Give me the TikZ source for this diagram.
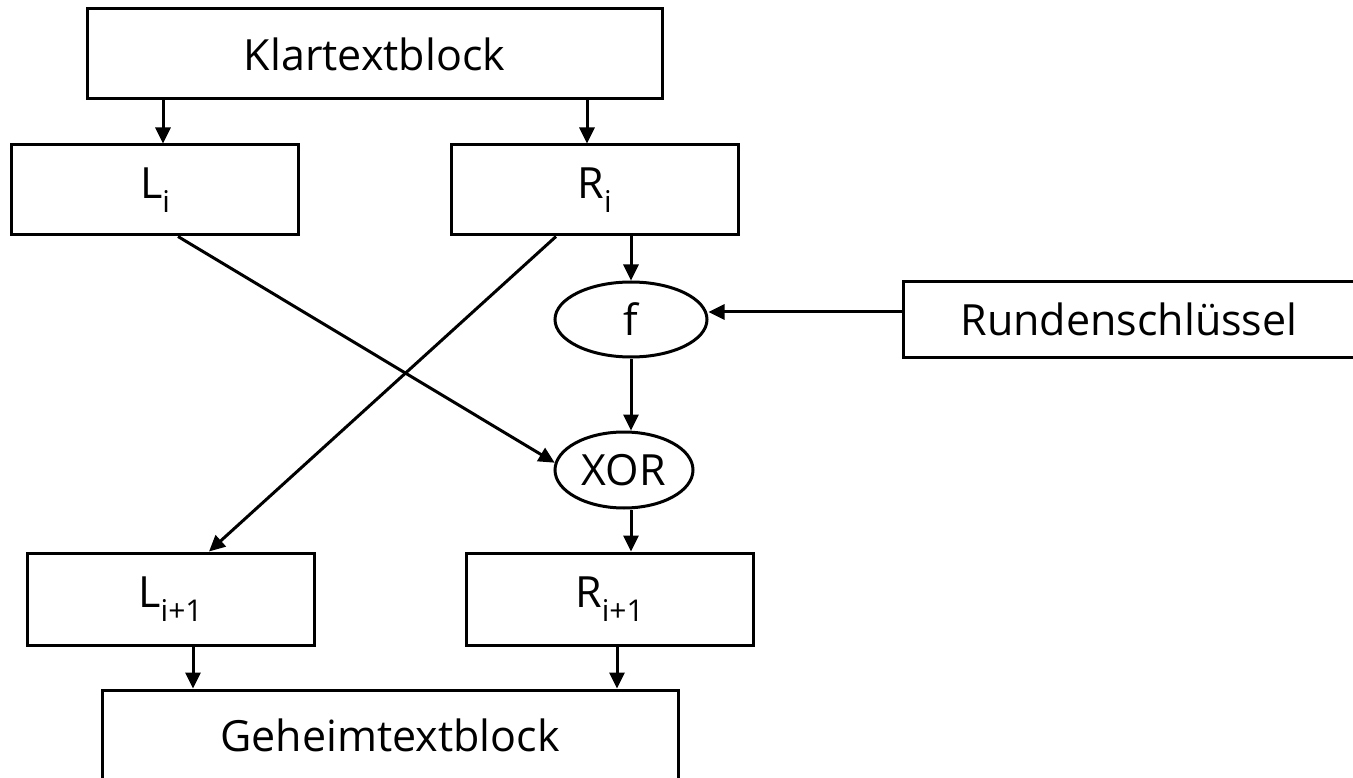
\documentclass[tikz,border=0pt]{standalone}
\usepackage{fontspec}
\setmainfont{Open Sans}
\usetikzlibrary{arrows.meta, positioning, shapes.geometric}

\newcommand{\idx}[1]{\raisebox{-14pt}{\fontsize{30}{30}\selectfont #1}}

\begin{document}
\begin{tikzpicture} [x = 1pt, y = -1pt, on grid, line width = 3pt,
        font = \fontsize{43}{48}\selectfont,
        block/.style = {draw, rectangle, inner sep = 0pt, minimum height = 90pt},
        half/.style = {block, minimum width = 287pt},
        round/.style = {draw, ellipse, inner sep = 0pt},
        arr/.style = {-{Triangle[length = 16pt, width = 15pt]}}]
        \useasboundingbox (0, 0) rectangle (1353, 778);

        \node (klar) [block, minimum width = 575pt] at (374.5, 54) {Klartextblock};
        \node (Li) [half, below left = 136pt and 219.5pt of klar] {L\idx{i}};
        \node (Ri) [half, right = 439.5pt of Li] {R\idx{i}};
        \node (f) [round, minimum width = 152pt, minimum height = 75pt, below right = 129.5pt and 36.5pt of Ri] {f};
        \node (rk) [block, minimum width = 452pt, minimum height = 75pt, right = 498pt of f] {Rundenschlüssel};
        \node (xor) [round, minimum width = 138pt, minimum height = 76pt, below left = 150.5pt and 7pt of f] {XOR};
        \node (Li1) [half, minimum height = 92pt, below right = 409pt and 15.5pt of Li] {L\idx{i+1}};
        \node (Ri1) [half, minimum height = 92pt, right = 439pt of Li1] {R\idx{i+1}};
        \node (geheim) [block, minimum width = 576pt, below right = 136pt and 219.5pt of Li1] {Geheimtextblock};

        \coordinate (toLi) at ([xshift = 8pt] Li.north);
        \coordinate (toRi) at ([xshift = -7.5pt] Ri.north);
        \coordinate (key) at ([yshift = 7.5pt] rk.west);
        \coordinate (fromLi1) at ([xshift = 22.5pt] Li1.south);
        \coordinate (fromRi1) at ([xshift = 7.5pt] Ri1.south);

        \draw [arr] (klar.south -| toLi) -- (toLi);
        \draw [arr] (klar.south -| toRi) -- (toRi);
        \draw [arr] (Ri.south -| f.north) -- (f.north);
        \draw [arr] (key) -- (key -| f.east);
        \draw [arr] (f.south) -- (f.south |- xor.north);
        \draw [arr] (xor.south -| f.south) -- (f.south |- Ri1.north);
        \draw [arr] ([xshift = 23pt] Li.south) -- (xor.174);
        \draw [arr] ([xshift = -38.5pt] Ri.south) -- ([xshift = 38.5pt] Li1.north);
        \draw [arr] (fromLi1) -- (fromLi1 |- geheim.north);
        \draw [arr] (fromRi1) -- (fromRi1 |- geheim.north);
    \end{tikzpicture}
\end{document}
